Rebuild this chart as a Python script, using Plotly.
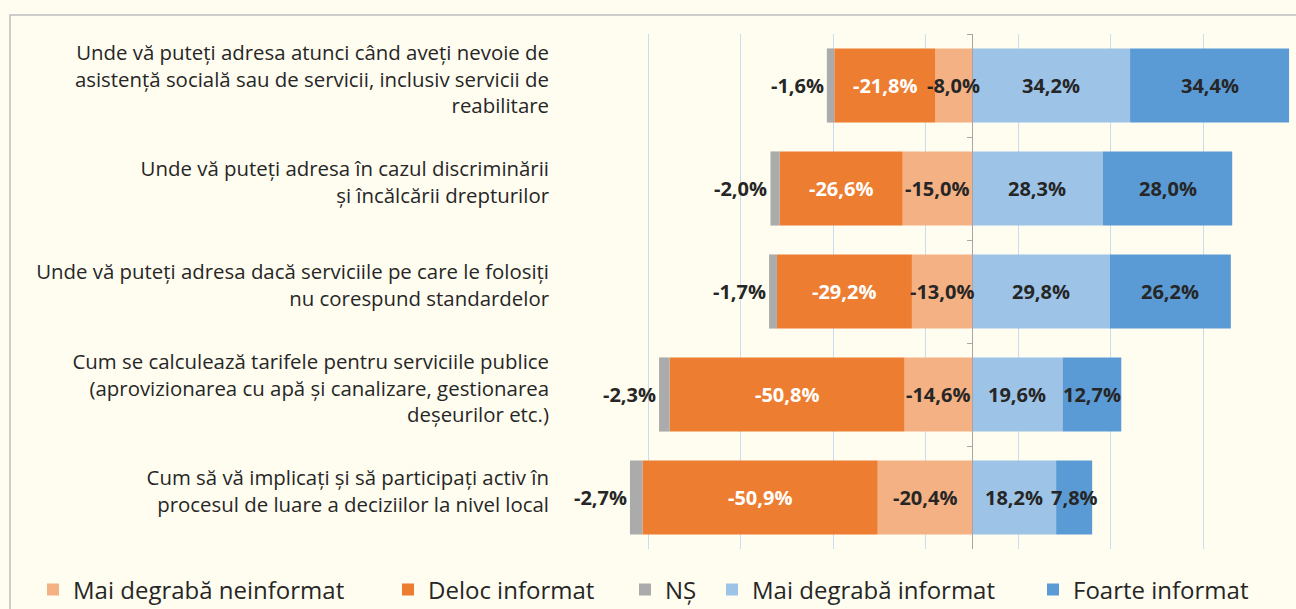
import plotly.graph_objects as go

categories = [
    "Unde vă puteți adresa atunci când aveți nevoie de<br>asistență socială sau de servicii, inclusiv servicii de<br>reabilitare",
    "Unde vă puteți adresa în cazul discriminării<br>și încălcării drepturilor",
    "Unde vă puteți adresa dacă serviciile pe care le folosiți<br>nu corespund standardelor",
    "Cum se calculează tarifele pentru serviciile publice<br>(aprovizionarea cu apă și canalizare, gestionarea<br>deșeurilor etc.)",
    "Cum să vă implicați și să participați activ în<br>procesul de luare a deciziilor la nivel local",
]
mai_degraba_neinformat = [-8.0, -15.0, -13.0, -14.6, -20.4]
deloc_informat = [-21.8, -26.6, -29.2, -50.8, -50.9]
ns = [-1.6, -2.0, -1.7, -2.3, -2.7]
mai_degraba_informat = [34.2, 28.3, 29.8, 19.6, 18.2]
foarte_informat = [34.4, 28.0, 26.2, 12.7, 7.8]

series = [
    ("Mai degrabă neinformat", mai_degraba_neinformat, "#F4B183", "#262626"),
    ("Deloc informat", deloc_informat, "#ED7D31", "#FFFFFF"),
    ("NȘ", ns, "#ABABAB", "#262626"),
    ("Mai degrabă informat", mai_degraba_informat, "#9DC3E6", "#262626"),
    ("Foarte informat", foarte_informat, "#5B9BD5", "#262626"),
]

W, H = 1296, 609
ML, MR, MT, MB = 556, 0, 34, 60
XMIN, XMAX = -90, 70.1
PW = W - ML - MR
PH = H - MT - MB
BG = "#FFFDF0"
LABEL_FONT = dict(family="Open Sans", size=20, weight="bold")


def fmt(v):
    return f"{v:.1f}%".replace(".", ",")


def px_to_paper_x(px):
    return (px - ML) / PW


def px_to_paper_y(py):
    return (H - MB - py) / PH


legend_left_px = [33, 388, 625, 712, 1033]

fig = go.Figure()
for i, (name, vals, color, tcolor) in enumerate(series):
    fig.add_trace(go.Bar(
        y=categories, x=vals, orientation="h", name=name,
        marker=dict(color=color, line=dict(width=0)),
        legend="legend" if i == 0 else f"legend{i+1}",
        hoverinfo="skip",
    ))

# data labels (drawn above all bars)
for name, vals, color, tcolor in series:
    for j, cat in enumerate(categories):
        before = 0.0
        for n2, v2, _, _ in series:
            if n2 == name:
                break
            if (v2[j] < 0) == (vals[j] < 0):
                before += v2[j]
        v = vals[j]
        if name == "NȘ":
            fig.add_annotation(x=before + v, y=cat, text=fmt(v), showarrow=False,
                               xanchor="right", yanchor="middle", xshift=-1,
                               font=dict(**LABEL_FONT, color=tcolor))
        else:
            fig.add_annotation(x=before + v / 2, y=cat, text=fmt(v), showarrow=False,
                               xanchor="center", yanchor="middle",
                               font=dict(**LABEL_FONT, color=tcolor))

# invisible trace carrying the zero axis with boundary ticks
fig.add_trace(go.Scatter(
    x=[0] * len(categories), y=categories, yaxis="y2", mode="markers",
    marker=dict(opacity=0), showlegend=False, hoverinfo="skip",
))

layout_legends = {}
for i, (name, vals, color, tcolor) in enumerate(series):
    key = "legend" if i == 0 else f"legend{i+1}"
    layout_legends[key] = dict(
        x=px_to_paper_x(legend_left_px[i]), y=px_to_paper_y(590),
        xanchor="left", yanchor="middle", orientation="h",
        bgcolor="rgba(0,0,0,0)",
        font=dict(family="Open Sans", size=24, color="#262626"),
    )

fig.update_layout(
    width=W, height=H,
    margin=dict(l=ML, r=MR, t=MT, b=MB, autoexpand=False),
    paper_bgcolor=BG, plot_bgcolor=BG,
    barmode="relative", bargap=0.28,
    showlegend=True,
    xaxis=dict(range=[XMIN, XMAX], tick0=10, dtick=20, showticklabels=False,
               showgrid=True, gridcolor="#C9DDF0", gridwidth=1,
               zeroline=False, showline=False, ticks=""),
    yaxis=dict(range=[len(categories) - 0.5, -0.5], showgrid=False,
               showline=False, ticks="", ticklabelstandoff=6,
               ticklabelshift=6,
               tickfont=dict(family="Open Sans", size=20.4, color="#262626")),
    yaxis2=dict(overlaying="y", anchor="free",
                position=(0 - XMIN) / (XMAX - XMIN),
                range=[len(categories) - 0.5, -0.5],
                showline=True, linecolor="#A6A6A6", linewidth=1,
                ticks="outside", ticklen=5, tickcolor="#A6A6A6",
                tickson="boundaries", showticklabels=False, showgrid=False,
                zeroline=False),
    **layout_legends,
)

# outer frame (top and left border)
x0 = px_to_paper_x(10)
y0 = px_to_paper_y(15)
fig.add_shape(type="path", xref="paper", yref="paper",
              path=f"M {x0},{px_to_paper_y(H + 5)} L {x0},{y0} L {px_to_paper_x(W + 5)},{y0}",
              line=dict(color="#BDBDBD", width=1.5), layer="below")

fig.write_html(
    "out.html",
    config={"displayModeBar": False},
    post_script=("document.body.style.margin='0';"
                 "document.body.style.overflow='hidden';"
                 f"document.body.style.background='{BG}';"),
)
